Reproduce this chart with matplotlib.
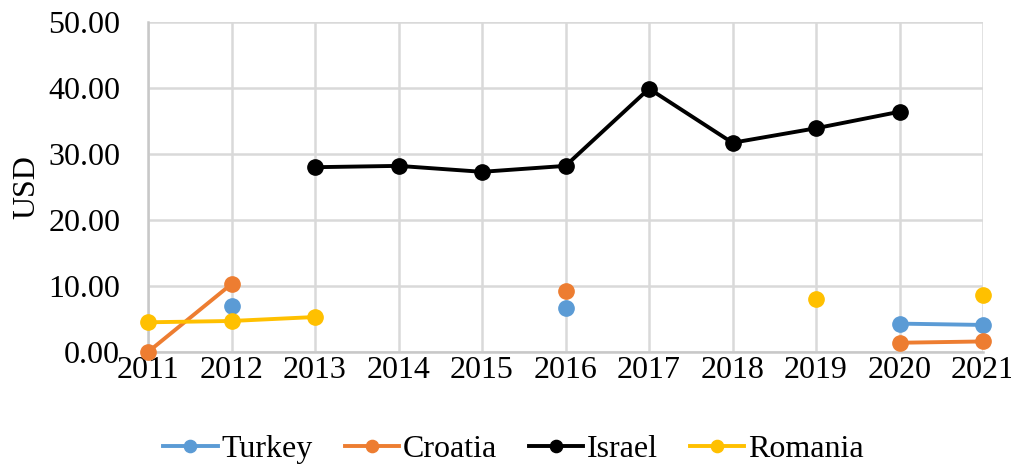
import numpy as np
import matplotlib.pyplot as plt

plt.rcParams['font.family'] = ['Liberation Serif', 'DejaVu Serif']

### Data ###

years = [2011, 2012, 2013, 2014, 2015, 2016, 2017, 2018, 2019, 2020, 2021]
nan = np.nan

turkey = [nan, 6.9, nan, nan, nan, 6.6, nan, nan, nan, 4.3, 4.1]
croatia = [0.0, 10.3, nan, nan, nan, 9.3, nan, nan, nan, 1.4, 1.6]
israel = [nan, nan, 28.0, 28.2, 27.3, 28.2, 39.9, 31.7, 33.9, 36.4, nan]
romania = [4.5, 4.7, 5.3, nan, nan, nan, nan, nan, 8.0, nan, 8.6]

series = [("Turkey", turkey, "#5B9BD5"),
          ("Croatia", croatia, "#ED7D31"),
          ("Israel", israel, "#000000"),
          ("Romania", romania, "#FFC000")]

### Plot ###

fs = 23
fig = plt.figure(figsize=(10.11, 4.68), dpi=100)
ax = fig.add_axes([148/1011, 1 - 352/468, (983 - 148)/1011, (352 - 22)/468])

x = np.arange(len(years))
for name, vals, col in series:
    ax.plot(x, vals, color=col, lw=2.8, marker='o', ms=11, label=name,
            clip_on=False, zorder=3)

ax.set_xlim(0, len(years) - 1)
ax.set_ylim(0, 50)
ax.set_xticks(x)
ax.set_xticklabels([str(y) for y in years])
ax.set_yticks(np.arange(0, 51, 10))
ax.set_yticklabels(["{:.2f}".format(v) for v in np.arange(0, 51, 10)])
ax.tick_params(labelsize=fs, length=0)
ax.tick_params(axis='y', pad=20)
ax.tick_params(axis='x', pad=3)
ax.set_ylabel("USD", fontsize=fs, labelpad=5)

ax.grid(True, color="#D9D9D9", lw=1.8)
ax.set_axisbelow(True)
for s in ["top", "right"]:
    ax.spines[s].set_visible(False)
for s in ["left", "bottom"]:
    ax.spines[s].set_color("#C8C8C8")
    ax.spines[s].set_linewidth(1.8)

fig.legend(loc="center", bbox_to_anchor=(0.508, 1 - 449/468), ncol=4,
           frameon=False, fontsize=fs, handlelength=1.7, handletextpad=0.12,
           columnspacing=1.0, markerscale=0.8)

fig.savefig("out.png", dpi=100)
